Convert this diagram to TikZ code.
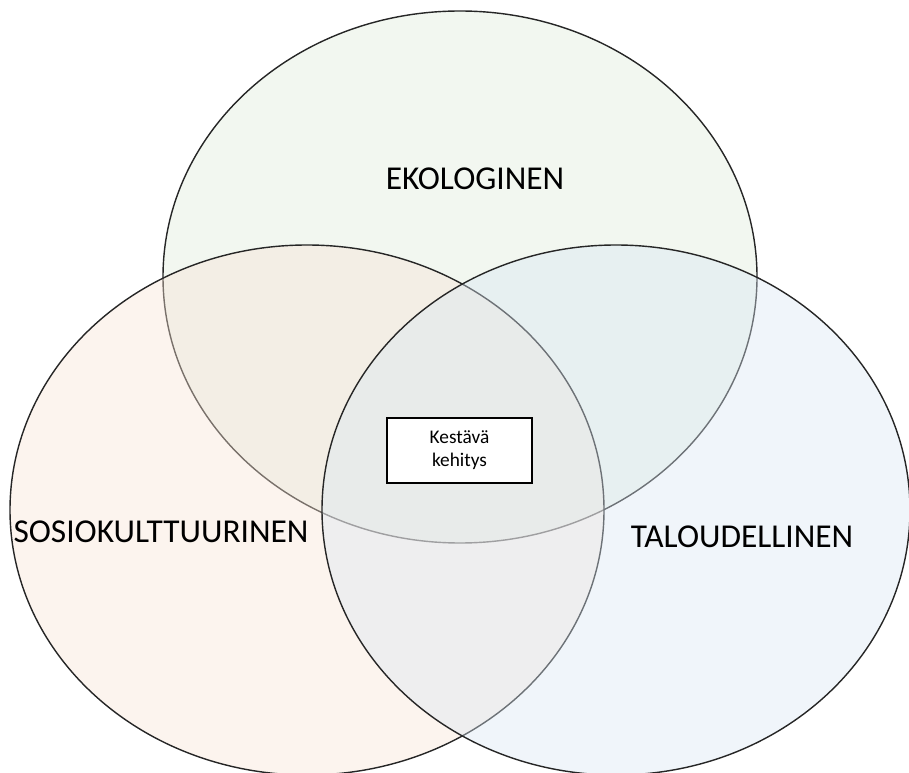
\documentclass[tikz,border=0pt]{standalone}
\usepackage{fontspec}
\setmainfont{Carlito}
\usepackage{tikz}
\definecolor{ekoColor}{RGB}{222,235,218}
\definecolor{sosioColor}{RGB}{247,227,212}
\definecolor{talousColor}{RGB}{217,230,242}
\tikzset{piiri/.style={line width=0.8pt, color=black!85, fill opacity=0.4}}

\begin{document}
\begin{tikzpicture}[x=0.02cm, y=-0.02cm]
			%%%%% START %%%%%
			\useasboundingbox (0, 0) rectangle (909, 773);
			
			\draw[piiri, fill=ekoColor] (460, 277) ellipse (297 and 266);
			\draw[piiri, fill=sosioColor] (307, 510) ellipse (297 and 265);
			\draw[piiri, fill=talousColor] (616, 510) ellipse (294 and 265);
			
			\node[font=\fontsize{19}{23}\selectfont] (eko) at (475, 179) {EKOLOGINEN};
			\node[font=\fontsize{19}{23}\selectfont] (sosio) at (161, 532) {SOSIOKULTTUURINEN};
			\node[font=\fontsize{19}{23}\selectfont] (talous) at (742, 537) {TALOUDELLINEN};
			
			\node[draw, line width=0.8pt, fill=white, minimum width=145*0.02cm, minimum height=65*0.02cm,
				align=center, font=\fontsize{11}{13}\selectfont] (kestava) at (459.5, 450.5) {Kestävä\\kehitys};
			
			%%%%% END %%%%%
		\end{tikzpicture}
\end{document}
